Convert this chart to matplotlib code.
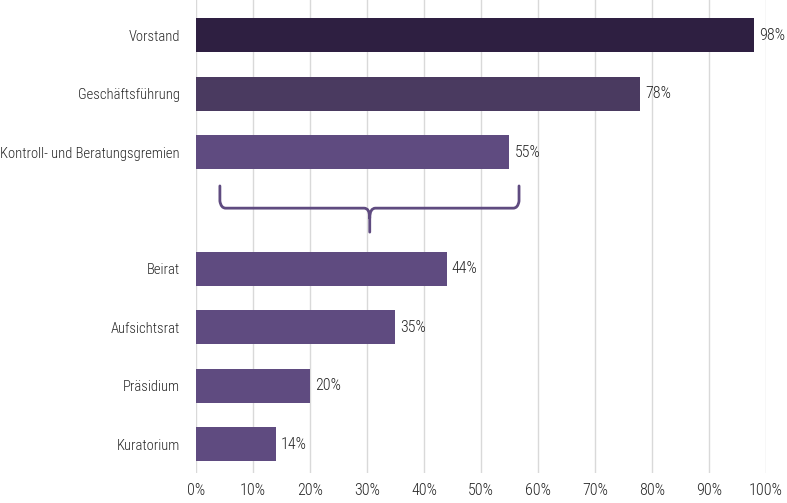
import matplotlib
matplotlib.use("Agg")
import matplotlib.pyplot as plt
from matplotlib.path import Path
from matplotlib.patches import PathPatch

# Daten
kategorien = ["Vorstand", "Geschäftsführung", "Kontroll- und Beratungsgremien",
              "", "Beirat", "Aufsichtsrat", "Präsidium", "Kuratorium"]
werte = [98, 78, 55, None, 44, 35, 20, 14]
farben = ["#2e1f41", "#4a3a60", "#5f4b80", None, "#5f4b80", "#5f4b80", "#5f4b80", "#5f4b80"]
x_ticks = list(range(0, 101, 10))

plt.rcParams['font.family'] = ['Roboto Condensed', 'Roboto', 'DejaVu Sans']
plt.rcParams['font.weight'] = 'light'
fs = 11.5

fig = plt.figure(figsize=(7.87, 5.03), dpi=100)
ax = fig.add_axes([0.249, 0.0596, 0.724, 0.9404])

for i, (w, c) in enumerate(zip(werte, farben)):
    if w is None:
        continue
    ax.barh(i, w, height=0.58, color=c, zorder=3)
    ax.text(w + 0.9, i, f"{w}%", va="center", ha="left", fontsize=fs, color="#262626")

ax.set_xlim(0, 100)
ax.set_ylim(7.49, -0.6)
ax.set_yticks(range(len(kategorien)))
ax.set_yticklabels(kategorien, fontsize=10.5, color="#262626")
ax.set_xticks(x_ticks)
ax.set_xticklabels([f"{t}%" for t in x_ticks], fontsize=fs, color="#262626")
ax.tick_params(axis="y", length=0, pad=11.5)
ax.tick_params(axis="x", length=0, pad=7)
for s in ax.spines.values():
    s.set_visible(False)
ax.grid(axis="x", color="#d9d9d9", linewidth=1, zorder=0)
ax.set_axisbelow(True)

# Klammer unter "Kontroll- und Beratungsgremien"
x0, x1, xm = 4.2, 56.7, 30.5
y_top, y_mid, y_tip = 2.58, 2.96, 3.37
dx, dy = 1.0, 0.12
verts = [
    (x0, y_top), (x0, y_mid - dy), (x0 + 0.2, y_mid), (x0 + dx, y_mid),
    (xm - dx, y_mid), (xm, y_mid), (xm, y_mid + dy + 0.05), (xm, y_tip),
    (xm, y_mid + dy + 0.05), (xm, y_mid), (xm + dx, y_mid),
    (x1 - dx, y_mid), (x1 - 0.2, y_mid), (x1, y_mid - dy), (x1, y_top),
]
codes = [
    Path.MOVETO, Path.LINETO, Path.CURVE3, Path.CURVE3,
    Path.LINETO, Path.CURVE3, Path.CURVE3, Path.LINETO,
    Path.MOVETO, Path.CURVE3, Path.CURVE3,
    Path.LINETO, Path.CURVE3, Path.CURVE3, Path.LINETO,
]
ax.add_patch(PathPatch(Path(verts, codes), facecolor="none", edgecolor="#5f4b80",
                       linewidth=2, capstyle="round", joinstyle="round", zorder=4))

fig.savefig("out.png", dpi=100)
